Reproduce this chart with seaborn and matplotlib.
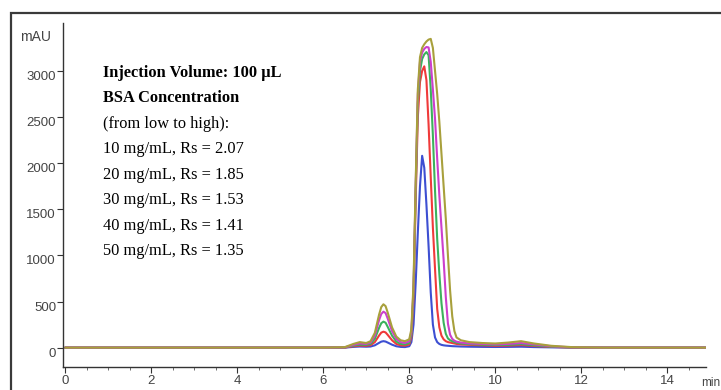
import matplotlib
matplotlib.use("Agg")
import matplotlib.pyplot as plt
import seaborn as sns
import pandas as pd
from matplotlib.patches import Rectangle
from matplotlib.ticker import MultipleLocator

# ---------------- data ----------------
time_min = [0, 6.0, 6.5, 6.7, 6.85, 7.0, 7.1, 7.2, 7.3, 7.35, 7.4, 7.45, 7.5, 7.6, 7.7, 7.8, 7.9,
            8.0, 8.05, 8.1, 8.15, 8.2, 8.25, 8.3, 8.35, 8.4, 8.45, 8.5, 8.55, 8.6, 8.65, 8.7, 8.75,
            8.8, 8.85, 8.9, 8.95, 9.0, 9.05, 9.1, 9.2, 9.4, 9.7, 10.0, 10.3, 10.6, 10.9, 11.3,
            11.8, 12.5, 15.0]

mau_10 = [0, 0, 0, 8, 12, 10, 12, 25, 52, 65, 70, 66, 55, 32, 15, 8, 6,
          15, 60, 250, 700, 1250, 1750, 2080, 1950, 1550, 1100, 600, 250, 110, 60, 40, 30,
          25, 22, 20, 18, 16, 15, 14, 12, 10, 8, 7, 8, 10, 6, 3,
          0, 0, 0]
mau_20 = [0, 0, 1, 15, 22, 20, 27, 60, 132, 163, 173, 165, 138, 80, 40, 25, 22,
          35, 110, 550, 1600, 2500, 2880, 3000, 3050, 2900, 2420, 1850, 1300, 850, 420, 220, 130,
          90, 70, 60, 55, 50, 45, 40, 35, 30, 25, 20, 22, 28, 18, 8,
          1, 0, 0]
mau_30 = [0, 0, 2, 22, 32, 30, 40, 95, 215, 265, 282, 270, 225, 130, 65, 40, 35,
          50, 140, 600, 1700, 2650, 3000, 3130, 3180, 3205, 3170, 2800, 2300, 1700, 1180, 800, 480,
          270, 150, 100, 80, 70, 60, 55, 45, 38, 32, 28, 30, 38, 25, 10,
          2, 0, 0]
mau_40 = [0, 0, 3, 30, 45, 40, 55, 130, 300, 365, 390, 375, 315, 180, 95, 60, 50,
          70, 170, 650, 1750, 2750, 3100, 3200, 3240, 3260, 3255, 3100, 2800, 2480, 2050, 1650, 1300,
          950, 550, 260, 140, 95, 75, 65, 55, 45, 40, 35, 40, 50, 35, 15,
          3, 0, 0]
mau_50 = [0, 0, 5, 40, 60, 50, 70, 160, 360, 440, 470, 450, 380, 220, 120, 80, 70,
          90, 200, 700, 1800, 2800, 3150, 3250, 3290, 3320, 3340, 3348, 3250, 3000, 2750, 2450, 2100,
          1750, 1400, 1000, 620, 340, 180, 110, 80, 60, 50, 45, 55, 70, 45, 20,
          5, 0, 0]

series_names = ["10 mg/mL", "20 mg/mL", "30 mg/mL", "40 mg/mL", "50 mg/mL"]
series_values = [mau_10, mau_20, mau_30, mau_40, mau_50]
rs_values = ["2.07", "1.85", "1.53", "1.41", "1.35"]

y_ticks = [0, 500, 1000, 1500, 2000, 2500, 3000]
x_ticks = [0, 2, 4, 6, 8, 10, 12, 14]

colors = ["#3d4fd2", "#f03a3a", "#3cb25c", "#cc3fcc", "#a8a03c"]

# ---------------- build long table ----------------
rows = []
for name, vals in zip(series_names, series_values):
    for t, v in zip(time_min, vals):
        rows.append({"time": t, "mAU": v, "conc": name})
df = pd.DataFrame(rows)

# ---------------- figure ----------------
sns.set_style("ticks")
plt.rcParams["font.family"] = ["Liberation Sans", "DejaVu Sans"]

W, H = 721, 390
fig = plt.figure(figsize=(W / 100, H / 100), dpi=100)
ax = fig.add_axes([63 / W, 1 - 367 / H, (706 - 63) / W, (367 - 23) / H])

sns.lineplot(data=df, x="time", y="mAU", hue="conc", palette=colors,
             hue_order=series_names, ax=ax, linewidth=1.5, legend=False,
             estimator=None, sort=False)

ax.set_xlim(-0.05, 14.9)
ax.set_ylim(-210, 3520)
ax.set_xlabel("")
ax.set_ylabel("")

ax.set_yticks(y_ticks)
ax.set_yticklabels([str(v) for v in y_ticks])
ax.set_xticks(x_ticks)
ax.set_xticklabels([str(v) for v in x_ticks])
ax.xaxis.set_minor_locator(MultipleLocator(0.5))

for s in ["top", "right"]:
    ax.spines[s].set_visible(False)
for s in ["left", "bottom"]:
    ax.spines[s].set_color("#333333")
    ax.spines[s].set_linewidth(1.0)

ax.tick_params(axis="both", which="both", bottom=True, left=True, top=False, right=False)
ax.tick_params(axis="both", which="major", direction="out", length=4, width=0.8,
               color="#333333", labelcolor="#444444", labelsize=9.5)
ax.tick_params(axis="x", which="minor", direction="out", length=2.5, width=0.6,
               color="#555555")
ax.tick_params(axis="y", which="major", pad=1)
ax.tick_params(axis="x", which="major", pad=2)
for lab in ax.get_yticklabels():
    lab.set_verticalalignment("top")

# axis units
fig.text(36 / W, 1 - 37 / H, "mAU", ha="center", va="center", fontsize=10, color="#444444")
fig.text(711 / W, 1 - 383 / H, "min", ha="center", va="center", fontsize=8.5, color="#444444")

# annotation block
serif = ["Liberation Serif", "DejaVu Serif"]
lines = [("Injection Volume: 100 µL", "bold"),
         ("BSA Concentration", "bold"),
         ("(from low to high):", "normal")]
for name, rs in zip(series_names, rs_values):
    lines.append((f"{name}, Rs = {rs}", "normal"))
y_pix = [73, 98, 124, 149, 175, 200, 226, 251]
for (txt, wt), yp in zip(lines, y_pix):
    fig.text(103 / W, 1 - yp / H, txt, ha="left", va="center", fontsize=11.8,
             fontweight=wt, family=serif, color="black")

# outer frame
fig.patches.append(Rectangle((11 / W, -0.1), 1.2, 1 - 13 / H + 0.1, transform=fig.transFigure,
                             fill=False, edgecolor="#3a3a3a", linewidth=1.6))

fig.savefig("out.png", dpi=100)
